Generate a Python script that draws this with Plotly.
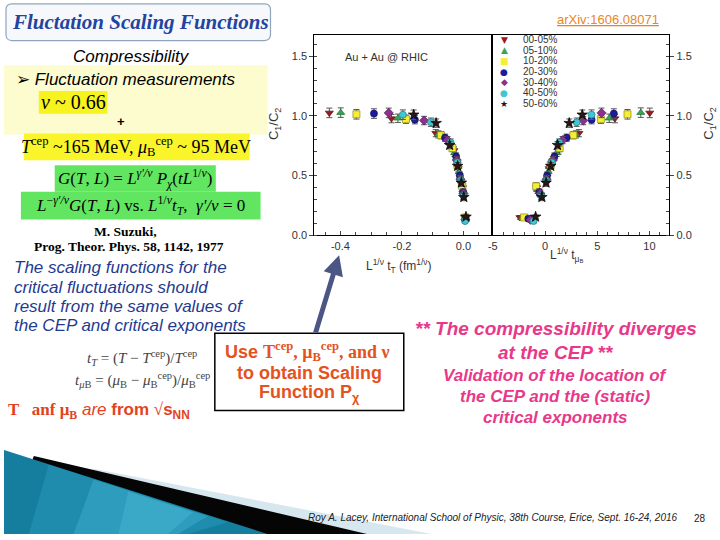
import plotly.graph_objects as go

W, H = 720, 540
SANS = "Liberation Sans, Arial, sans-serif"
SERIF = "Liberation Serif, Times New Roman, serif"


def px(x):
    return x / W


def py(y):
    return 1 - y / H


# ---------------- data ----------------
centralities = ["00-05%", "05-10%", "10-20%", "20-30%", "30-40%", "40-50%", "50-60%"]
symbols = ["triangle-down", "triangle-up", "square", "circle", "diamond", "circle", "star"]
legend_glyphs = ["▼", "▲", "■", "●", "◆", "●", "★"]
fill_colors = ["#9b1b22", "#35a853", "#f4ef34", "#1c1c9c", "#8e2f92", "#42c6d2", "#2a1616"]
edge_colors = ["#5a0e12", "#1d6a30", "#8c8812", "#0c0c5c", "#521a55", "#1a7d88", "#000000"]

# C1/C2 values (shared by both panels) for each centrality class
c1c2_values = [
    [1.025, 0.977, 0.855, 0.71, 0.56, 0.40, 0.150],
    [1.027, 0.980, 0.845, 0.69, 0.53, 0.38, 0.145],
    [1.013, 0.972, 0.838, 0.73, 0.59, 0.41, 0.150],
    [1.019, 0.968, 0.817, 0.66, 0.50, 0.36, 0.140],
    [1.025, 0.961, 0.797, 0.63, 0.47, 0.35, 0.130],
    [1.010, 0.947, 0.777, 0.61, 0.46, 0.33, 0.120],
    [1.009, 0.939, 0.755, 0.58, 0.44, 0.32, 0.155],
]
c1c2_errors = [0.04, 0.035, 0.03, 0.03, 0.03, 0.03, 0.015]

# L^{1/nu} t_T (fm^{1/nu})
scaled_tT = [
    [-0.436, -0.234, -0.090, -0.031, -0.017, -0.003, 0.004],
    [-0.399, -0.213, -0.082, -0.029, -0.014, -0.002, 0.005],
    [-0.348, -0.187, -0.073, -0.036, -0.020, -0.004, 0.006],
    [-0.291, -0.158, -0.060, -0.024, -0.012, -0.001, 0.007],
    [-0.243, -0.128, -0.052, -0.022, -0.010, 0.000, 0.006],
    [-0.197, -0.106, -0.042, -0.020, -0.009, 0.000, 0.005],
    [-0.162, -0.089, -0.045, -0.019, -0.007, 0.001, 0.008],
]
# L^{1/nu} t_muB
scaled_tmu = [
    [10.03, 6.69, 3.25, 1.30, 0.40, -0.80, -2.40],
    [9.17, 6.15, 2.96, 1.10, 0.30, -0.70, -2.20],
    [7.90, 5.35, 2.71, 1.40, 0.55, -0.85, -2.00],
    [6.59, 4.46, 2.07, 0.90, 0.20, -0.55, -1.60],
    [5.41, 3.66, 1.69, 0.75, 0.15, -0.45, -1.40],
    [4.46, 3.03, 1.37, 0.65, 0.12, -0.35, -1.10],
    [3.57, 2.32, 1.20, 0.55, 0.10, -0.30, -0.90],
]

left_xticks = [-0.4, -0.2, 0.0]
left_xticktext = ["-0.4", "-0.2", "0.0"]
right_xticks = [-5, 0, 5, 10]
right_xticktext = ["-5", "0", "5", "10"]
yticks = [0.0, 0.5, 1.0, 1.5]
yticktext = ["0.0", "0.5", "1.0", "1.5"]

fig = go.Figure()

for i, name in enumerate(centralities):
    for xs, xa, ya in ((scaled_tT[i], "x", "y"), (scaled_tmu[i], "x2", "y2")):
        fig.add_trace(go.Scatter(
            x=xs, y=c1c2_values[i], mode="markers", name=name,
            xaxis=xa, yaxis=ya, showlegend=False,
            marker=dict(symbol=symbols[i], size=7 if symbols[i] != "star" else 8,
                        color=fill_colors[i], line=dict(color=edge_colors[i], width=0.7)),
            error_y=dict(type="data", array=c1c2_errors, color="#555555", thickness=1, width=3),
        ))

tickfont = dict(family=SANS, size=11, color="#333333")
axis_common = dict(showline=True, linecolor="black", linewidth=1, mirror=True,
                   showgrid=False, zeroline=False, tickfont=tickfont)

ydom = [py(238), py(35)]
fig.update_layout(
    width=W, height=H, margin=dict(l=0, r=0, t=0, b=0),
    paper_bgcolor="white", plot_bgcolor="white", showlegend=False,
    xaxis=dict(domain=[px(312), px(491)], range=[-0.485, 0.0935], anchor="y",
               tickvals=left_xticks, ticktext=left_xticktext, ticks="inside", ticklen=4,
               minor=dict(ticks="inside", dtick=0.05, tick0=0, ticklen=3, showgrid=False),
               **axis_common),
    yaxis=dict(domain=ydom, range=[0, 1.68], anchor="x",
               tickvals=yticks, ticktext=yticktext, ticks="outside", ticklen=4,
               minor=dict(ticks="inside", dtick=0.1, tick0=0, ticklen=3, showgrid=False),
               **axis_common),
    xaxis2=dict(domain=[px(491), px(669)], range=[-5.05, 11.9], anchor="y2",
                tickvals=right_xticks, ticktext=right_xticktext, ticks="inside", ticklen=4,
                minor=dict(ticks="inside", dtick=1, tick0=0, ticklen=3, showgrid=False),
                **axis_common),
    yaxis2=dict(domain=ydom, range=[0, 1.68], anchor="x2", side="right",
                tickvals=yticks, ticktext=yticktext, ticks="outside", ticklen=4,
                minor=dict(ticks="inside", dtick=0.1, tick0=0, ticklen=3, showgrid=False),
                **axis_common),
)

# ---------------- decorative shapes ----------------
def path(points, close=True):
    s = "M " + " L ".join(f"{px(x):.5f},{py(y):.5f}" for x, y in points)
    return s + (" Z" if close else "")


shapes = []


def poly(points, fill, line_color=None, width=0):
    shapes.append(dict(type="path", xref="paper", yref="paper", path=path(points),
                       fillcolor=fill, line=dict(color=line_color or fill, width=width),
                       layer="above"))


def rect(x0, y0, x1, y1, fill, line_color=None, width=0):
    shapes.append(dict(type="rect", xref="paper", yref="paper",
                       x0=px(x0), x1=px(x1), y0=py(y1), y1=py(y0),
                       fillcolor=fill, line=dict(color=line_color or fill, width=width),
                       layer="above"))


# title box with rounded corners
r = 6
x0, y0, x1, y1 = 2, 4, 268, 41
tb = (f"M {px(x0+r)},{py(y0)} L {px(x1-r)},{py(y0)} Q {px(x1)},{py(y0)} {px(x1)},{py(y0+r)} "
      f"L {px(x1)},{py(y1-r)} Q {px(x1)},{py(y1)} {px(x1-r)},{py(y1)} "
      f"L {px(x0+r)},{py(y1)} Q {px(x0)},{py(y1)} {px(x0)},{py(y1-r)} "
      f"L {px(x0)},{py(y0+r)} Q {px(x0)},{py(y0)} {px(x0+r)},{py(y0)} Z")
shapes.append(dict(type="path", xref="paper", yref="paper", path=tb, fillcolor="#f6f8fb",
                   line=dict(color="#90a4bc", width=1.2), layer="above"))

rect(0, 66, 265, 136, "#fcfccf")          # pale yellow panel
rect(35, 92, 104, 115, "#f7f31e")         # nu box
rect(20, 135, 247, 162, "#f9f52a")        # T cep box
rect(51, 167, 213, 194, "#62e662")        # green box 1
rect(17, 194, 258, 222, "#62e662")        # green box 2
rect(212, 337, 402, 415, "white", "black", 1.5)  # Use T cep box

# bottom swoosh
poly([(0, 540), (90, 474), (430, 540)], "#d6e7ef")
poly([(0, 540), (30, 461), (365, 540)], "#050505")
poly([(0, 455), (265, 540), (0, 540)], "#157e9e")
poly([(45, 470), (225, 528), (185, 540), (25, 540)], "#1f8cad")
poly([(90, 485), (205, 522), (175, 540), (70, 540)], "#2d9cbd")
poly([(125, 497), (190, 518), (165, 540), (115, 540)], "#3aa9c8")

fig.update_layout(shapes=shapes)

# ---------------- text ----------------
ann = []


def note(text, x, y, size, color="black", family=SANS, xanchor="center", angle=0):
    ann.append(dict(text=text, x=px(x), y=py(y), xref="paper", yref="paper",
                    xanchor=xanchor, yanchor="middle", showarrow=False, textangle=angle,
                    font=dict(family=family, size=size, color=color)))


note("<b><i>Fluctation Scaling Functions</i></b>", 137, 22, 21, "#2343a0", SERIF)
note("<i>Compressibility</i>", 128, 57, 17)
note("➢ <i>Fluctuation measurements</i>", 10, 80, 17, xanchor="left")
note("<i>ν</i> ~ 0.66", 70, 103, 20, family=SERIF)
note("<b>+</b>", 118, 123, 13)
note("<i>T</i><sup>cep</sup> ~165 MeV, <i>μ</i><sub>B</sub><sup>cep</sup> ~ 95 MeV",
     133, 148, 18, family=SERIF)
note("<i>G</i>(<i>T</i>, <i>L</i>) = <i>L</i><sup><i>γ'/ν</i></sup> <i>P</i><sub><i>χ</i></sub>"
     "(<i>tL</i><sup>1/<i>ν</i></sup>)", 132, 181, 17, family=SERIF)
note("<i>L</i><sup>−<i>γ'/ν</i></sup><i>G</i>(<i>T</i>, <i>L</i>) vs. <i>L</i><sup>1/<i>ν</i></sup>"
     "<i>t</i><sub><i>T</i></sub>,  <i>γ'/ν</i> = 0", 137, 208, 17, family=SERIF)
note("<b>M. Suzuki,</b>", 122, 234, 13.5, family=SERIF)
note("<b>Prog. Theor. Phys. 58, 1142, 1977</b>", 126, 249, 13.5, family=SERIF)

blue = "#1f3a90"
for k, line in enumerate(["The scaling functions for the", "critical fluctuations should",
                          "result from the same values of", "the CEP and critical exponents"]):
    note(f"<i>{line}</i>", 8, 271 + k * 19.5, 17, blue, xanchor="left")

note("<i>t</i><sub><i>T</i></sub> = (<i>T</i> − <i>T</i><sup>cep</sup>)/<i>T</i><sup>cep</sup>",
     139, 362, 15, "#444444", SERIF)
note("<i>t</i><sub><i>μ</i>B</sub> = (<i>μ</i><sub>B</sub> − <i>μ</i><sub>B</sub><sup>cep</sup>)/"
     "<i>μ</i><sub>B</sub><sup>cep</sup>", 139, 384, 15, "#444444", SERIF)
red = "#e2431c"
note(f"<span style='font-family:Liberation Serif'><b>T   anf μ<sub>B</sub></b></span> "
     f"<i>are</i> <b>from <span style='font-family:Liberation Serif'>√</span>s<sub>NN</sub></b>",
     2, 416, 17, red, xanchor="left")

orange = "#e5521d"
note("<b>Use <span style='font-family:Liberation Serif'>T<sup>cep</sup>, μ<sub>B</sub><sup>cep</sup>, and ν</span></b>",
     305, 355, 18, orange)
note("<b>to obtain Scaling</b>", 307, 377, 18, orange)
note("<b>Function P<sub>χ</sub></b>", 307, 398, 18, orange)

pink = "#e8388a"
note("<b><i>** The compressibility diverges</i></b>", 555, 332, 19, pink)
note("<b><i>at the CEP **</i></b>", 555, 356, 19, pink)
note("<b><i>Validation of the location of</i></b>", 555, 380, 17, pink)
note("<b><i>the CEP and the (static)</i></b>", 555, 401, 17, pink)
note("<b><i>critical exponents</i></b>", 555, 422, 17, pink)

note("<i>Roy A. Lacey, International School of Physic, 38th Course, Erice, Sept. 16-24, 2016</i>",
     304, 523, 10, "#222222", xanchor="left")
note("28", 700, 524, 10, "#222222")

note("<u>arXiv:1606.08071</u>", 607, 20, 13, "#e8862a")

# chart texts
note("Au + Au @ RHIC", 385, 58, 11, "#333333")
note("C<sub>1</sub>/C<sub>2</sub>", 272, 125, 13, "#333333", angle=-90)
note("C<sub>1</sub>/C<sub>2</sub>", 710, 125, 13, "#333333", angle=-90)
note("L<sup>1/ν</sup> t<sub>T</sub> (fm<sup>1/ν</sup>)", 397, 269, 12, "#333333")
note("L<sup>1/ν</sup> t<sub>μ<sub>B</sub></sub>", 566, 258, 12, "#333333")

# legend (compact, drawn as text)
for i, name in enumerate(centralities):
    yy = 40 + i * 10.8
    note(f"<span style='color:{fill_colors[i]}'>{legend_glyphs[i]}</span>", 503, yy, 9,
         family="DejaVu Sans")
    note(name, 520, yy, 10, "#333333", xanchor="left")

# arrow (tip near the -0.4 tick, tail at the box top)
ann.append(dict(text="", x=px(337), y=py(258), ax=313 - 337, ay=337 - 258,
                xref="paper", yref="paper", axref="pixel", ayref="pixel",
                showarrow=True, arrowhead=2, arrowsize=0.8, arrowwidth=5,
                arrowcolor="#4b5684", standoff=0))

fig.update_layout(annotations=ann)

fig.write_html("out.html")
